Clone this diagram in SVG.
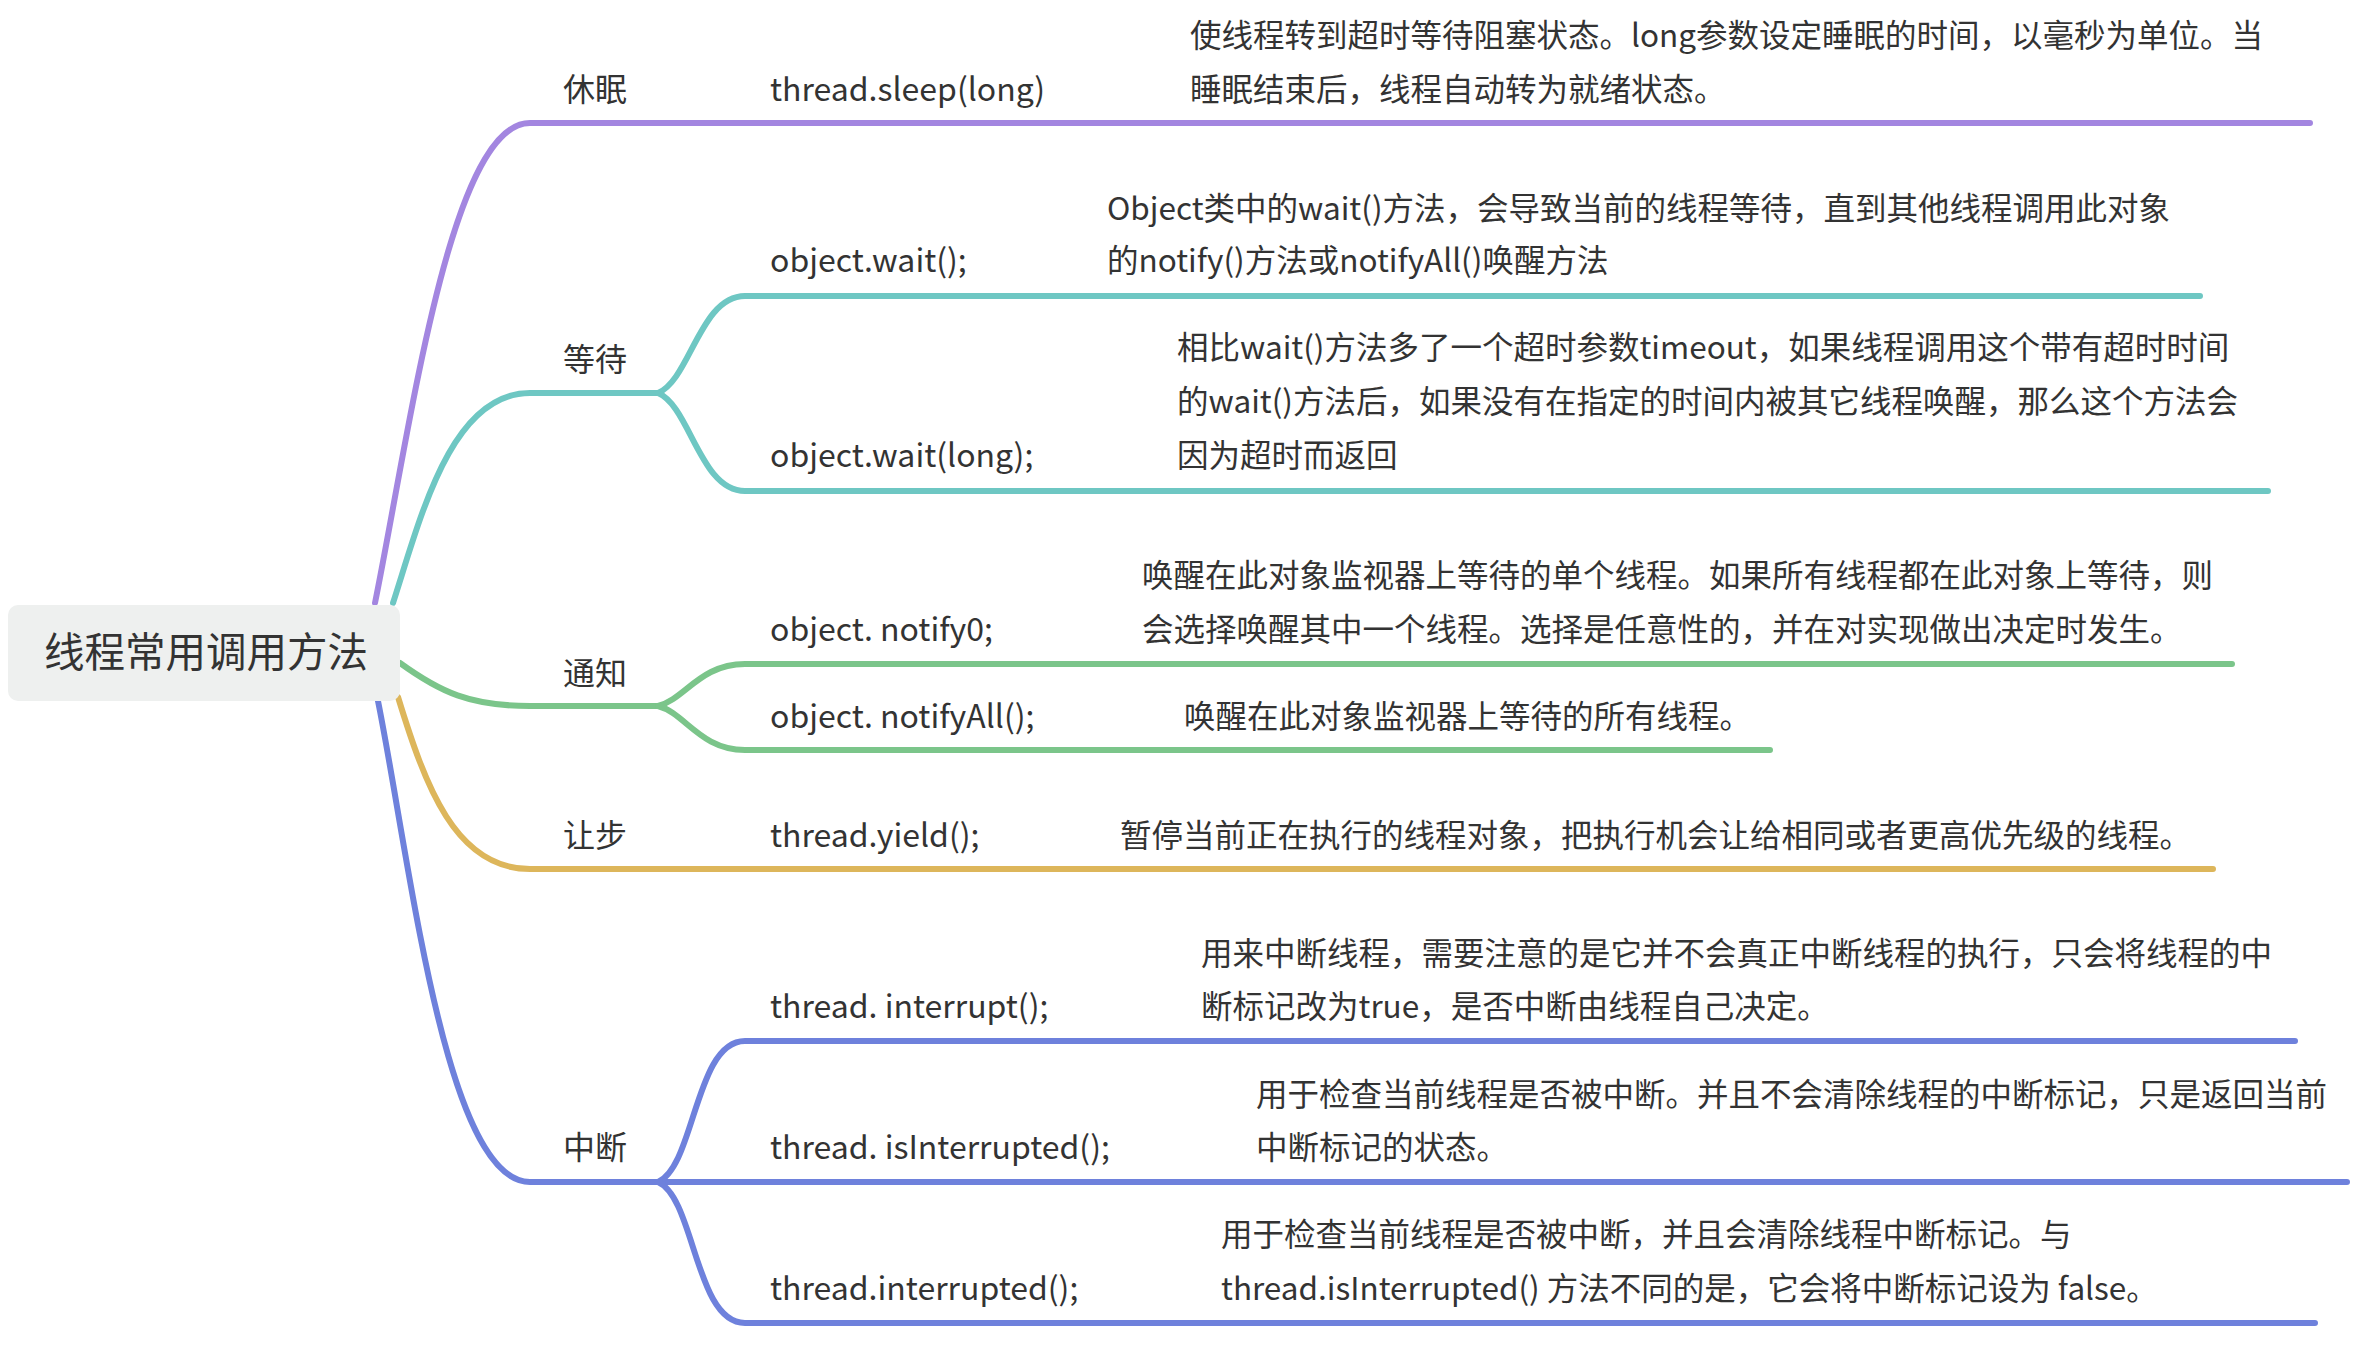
<svg xmlns="http://www.w3.org/2000/svg" width="2353" height="1372" viewBox="0 0 2353 1372">
<style>
text{font-family:"Noto Sans CJK SC","Noto Sans",sans-serif;fill:#333;font-size:32px}
.root{font-size:40.5px}
.d{font-size:31.5px}
.c{fill:none;stroke-width:6;stroke-linecap:round;stroke-linejoin:round}
.pu{stroke:#a386e0}.te{stroke:#6ec7c3}.gr{stroke:#7bc58a}.go{stroke:#ddb65b}.bl{stroke:#6e81dc}
</style>
<rect width="2353" height="1372" fill="#fff"/>
<g id="connectors">
<path class="c pu" d="M375,603 C410,430 450,123 530,123 H2310"/>
<path class="c te" d="M393,603 C420,520 450,393 530,393 H658"/>
<path class="c te" d="M658,393 C690,380 700,296 745,296 H2200"/>
<path class="c te" d="M658,393 C690,406 700,491 745,491 H2268"/>
<path class="c gr" d="M400,663 C440,692 470,706 530,706 H658"/>
<path class="c gr" d="M658,706 C685,699 700,664 745,664 H2232"/>
<path class="c gr" d="M658,706 C685,713 700,750 745,750 H1770"/>
<path class="c go" d="M398,697 C425,785 455,869 530,869 H2213"/>
<path class="c bl" d="M378,701 C410,860 445,1182 530,1182 H2347"/>
<path class="c bl" d="M658,1182 C695,1166 695,1041 745,1041 H2295"/>
<path class="c bl" d="M658,1182 C695,1198 695,1323 745,1323 H2315"/>
</g>
<g id="root">
<rect x="8" y="605" width="392" height="96" rx="10" fill="#eef0ef"/>
<text class="root" x="44" y="667">线程常用调用方法</text>
</g>
<g id="n-sleep">
<text x="563" y="101">休眠</text>
<text x="770" y="101">thread.sleep(long)</text>
<text class="d" x="1190" y="47">使线程转到超时等待阻塞状态。long参数设定睡眠的时间，以毫秒为单位。当</text>
<text class="d" x="1190" y="101">睡眠结束后，线程自动转为就绪状态。</text>
</g>
<g id="n-wait">
<text x="563" y="371">等待</text>
<text x="770" y="272">object.wait();</text>
<text class="d" x="1107" y="220">Object类中的wait()方法，会导致当前的线程等待，直到其他线程调用此对象</text>
<text class="d" x="1107" y="272">的notify()方法或notifyAll()唤醒方法</text>
<text x="770" y="467">object.wait(long);</text>
<text class="d" x="1177" y="359">相比wait()方法多了一个超时参数timeout，如果线程调用这个带有超时时间</text>
<text class="d" x="1177" y="413">的wait()方法后，如果没有在指定的时间内被其它线程唤醒，那么这个方法会</text>
<text class="d" x="1177" y="467">因为超时而返回</text>
</g>
<g id="n-notify">
<text x="563" y="685">通知</text>
<text x="770" y="641">object. notify0;</text>
<text class="d" x="1142" y="587">唤醒在此对象监视器上等待的单个线程。如果所有线程都在此对象上等待，则</text>
<text class="d" x="1142" y="641">会选择唤醒其中一个线程。选择是任意性的，并在对实现做出决定时发生。</text>
<text x="770" y="728">object. notifyAll();</text>
<text class="d" x="1184" y="728">唤醒在此对象监视器上等待的所有线程。</text>
</g>
<g id="n-yield">
<text x="563" y="847">让步</text>
<text x="770" y="847">thread.yield();</text>
<text class="d" x="1120" y="847">暂停当前正在执行的线程对象，把执行机会让给相同或者更高优先级的线程。</text>
</g>
<g id="n-interrupt">
<text x="563" y="1159">中断</text>
<text x="770" y="1018">thread. interrupt();</text>
<text class="d" x="1201" y="965">用来中断线程，需要注意的是它并不会真正中断线程的执行，只会将线程的中</text>
<text class="d" x="1201" y="1018">断标记改为true，是否中断由线程自己决定。</text>
<text x="770" y="1159">thread. isInterrupted();</text>
<text class="d" x="1256" y="1106">用于检查当前线程是否被中断。并且不会清除线程的中断标记，只是返回当前</text>
<text class="d" x="1256" y="1159">中断标记的状态。</text>
<text x="770" y="1300">thread.interrupted();</text>
<text class="d" x="1221" y="1246">用于检查当前线程是否被中断，并且会清除线程中断标记。与</text>
<text class="d" x="1221" y="1300">thread.isInterrupted() 方法不同的是，它会将中断标记设为 false。</text>
</g>
</svg>
